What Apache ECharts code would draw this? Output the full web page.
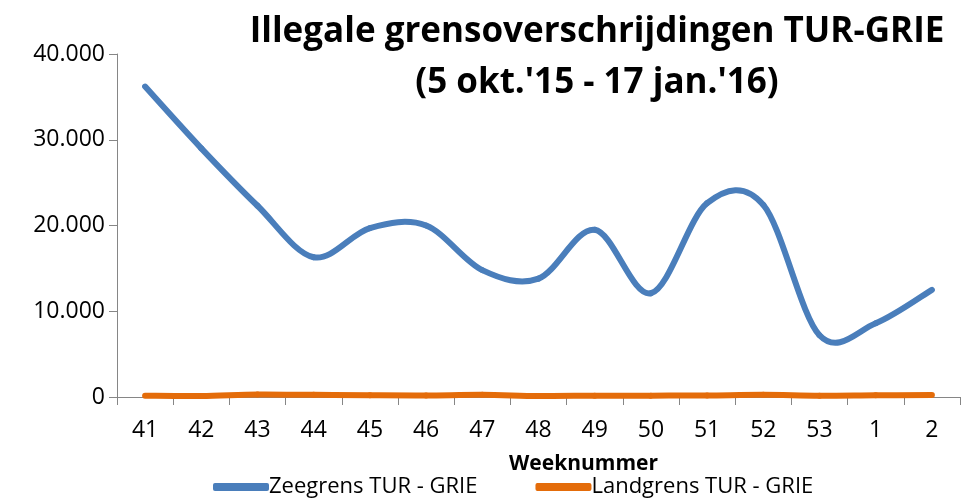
<!DOCTYPE html>
<html>
<head>
<meta charset="utf-8">
<script src="https://cdn.jsdelivr.net/npm/echarts@6/dist/echarts.min.js"></script>
<style>
  html, body { margin: 0; padding: 0; background: #fff; }
  #chart { width: 968px; height: 498px; }
</style>
</head>
<body>
<div id="chart"></div>
<script>
const weeks = ['41', '42', '43', '44', '45', '46', '47', '48', '49', '50', '51', '52', '53', '1', '2'];
const zeegrens = [36200, 29000, 22300, 16300, 19700, 20000, 14800, 13800, 19500, 12100, 22600, 22400, 7200, 8600, 12500];
const landgrens = [150, 120, 300, 250, 200, 180, 250, 120, 150, 160, 180, 250, 150, 200, 220];
const yTicks = [0, 10000, 20000, 30000, 40000];

const font = '"Open Sans", "Liberation Sans", sans-serif';
const chart = echarts.init(document.getElementById('chart'));

// Excel-style smoothed line: one bezier segment per point pair,
// control points taken from the neighbours (Catmull-Rom, tension 1/6)
function smoothSegment(values, color) {
  return function (params, api) {
    const i = params.dataIndex;
    if (i >= values.length - 1) return null;
    const clamp = k => Math.max(0, Math.min(values.length - 1, k));
    const pt = k => api.coord([clamp(k), values[clamp(k)]]);
    const p0 = pt(i - 1), p1 = pt(i), p2 = pt(i + 1), p3 = pt(i + 2);
    return {
      type: 'bezierCurve',
      shape: {
        x1: p1[0], y1: p1[1],
        cpx1: p1[0] + (p2[0] - p0[0]) / 6, cpy1: p1[1] + (p2[1] - p0[1]) / 6,
        cpx2: p2[0] - (p3[0] - p1[0]) / 6, cpy2: p2[1] - (p3[1] - p1[1]) / 6,
        x2: p2[0], y2: p2[1]
      },
      style: { stroke: color, lineWidth: 6, lineCap: 'round', fill: null }
    };
  };
}

chart.setOption({
  animation: false,
  title: {
    text: 'Illegale grensoverschrijdingen TUR-GRIE\n(5 okt.\'15 - 17 jan.\'16)',
    left: 592,
    top: 2,
    textAlign: 'center',
    textStyle: { fontFamily: font, fontSize: 35, fontWeight: 'bold', color: '#000', lineHeight: 51 }
  },
  legend: {
    bottom: -5,
    left: 208,
    itemWidth: 56,
    itemHeight: 8,
    itemGap: 58,
    icon: 'roundRect',
    textStyle: { fontFamily: font, fontSize: 22, color: '#000', padding: [0, 0, 0, -5] },
    data: ['Zeegrens TUR - GRIE', 'Landgrens TUR - GRIE']
  },
  grid: { left: 117, right: 8, top: 54, bottom: 101 },
  xAxis: {
    type: 'category',
    data: weeks,
    boundaryGap: true,
    name: 'Weeknummer',
    nameLocation: 'middle',
    nameGap: 57,
    nameTextStyle: { fontFamily: font, fontSize: 21, fontWeight: 'bold', color: '#000', padding: [0, 0, 0, 90] },
    axisLine: { lineStyle: { color: '#868686', width: 1 } },
    axisTick: { show: true, length: 8, lineStyle: { color: '#868686' } },
    axisLabel: { fontFamily: font, fontSize: 23, color: '#000', margin: 22 }
  },
  yAxis: {
    type: 'value',
    min: 0,
    max: yTicks[yTicks.length - 1],
    interval: 10000,
    axisLine: { show: true, lineStyle: { color: '#868686', width: 1 } },
    axisTick: { show: true, length: 8, lineStyle: { color: '#868686' } },
    splitLine: { show: false },
    axisLabel: {
      fontFamily: font, fontSize: 23, color: '#000', margin: 12,
      formatter: v => v.toString().replace(/\B(?=(\d{3})+(?!\d))/g, '.')
    }
  },
  series: [
    {
      name: 'Zeegrens TUR - GRIE',
      type: 'custom',
      data: zeegrens.map((v, i) => [i, v]),
      encode: { x: 0, y: 1 },
      itemStyle: { color: '#4A7EBB' },
      renderItem: smoothSegment(zeegrens, '#4A7EBB')
    },
    {
      name: 'Landgrens TUR - GRIE',
      type: 'custom',
      data: landgrens.map((v, i) => [i, v]),
      encode: { x: 0, y: 1 },
      itemStyle: { color: '#E46C0A' },
      renderItem: smoothSegment(landgrens, '#E46C0A')
    }
  ]
});
</script>
</body>
</html>
